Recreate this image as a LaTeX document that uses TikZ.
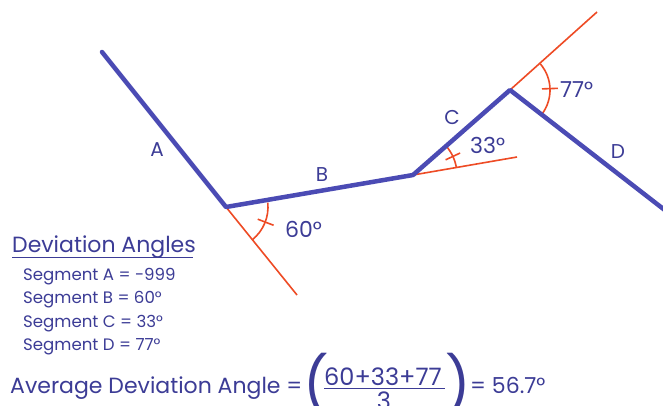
\documentclass[tikz,border=0pt]{standalone}
\usepackage{fontspec}
\setmainfont{Poppins}
\definecolor{segblue}{HTML}{4B4BB4}
\definecolor{txtblue}{HTML}{3C3C96}
\definecolor{devred}{HTML}{EE4B25}
\begin{document}
\begin{tikzpicture}[x=1pt,y=1pt,
  seg/.style={draw=segblue,line width=4.5pt,line join=round,line cap=round},
  ext/.style={draw=devred,line width=1.6pt},
  lbl/.style={text=txtblue,inner sep=0pt,font=\fontsize{20}{20}\selectfont},
  anglbl/.style={text=txtblue,inner sep=0pt,anchor=base west,font=\fontsize{22}{22}\selectfont},
  listtxt/.style={text=txtblue,inner sep=0pt,anchor=base west,font=\fontsize{16.6}{16.6}\selectfont},
  bigtxt/.style={text=txtblue,inner sep=0pt,anchor=base west,font=\fontsize{22}{22}\selectfont},
  paren/.style={text=txtblue,inner sep=0pt,anchor=base west,font=\fontsize{56}{56}\selectfont}]
\useasboundingbox (0,0) rectangle (663,-405);
\fill[white] (0,0) rectangle (663,-405);
% vertices
\coordinate (P0) at (102,-52);
\coordinate (V1) at (226,-207);
\coordinate (V2) at (413,-175);
\coordinate (V3) at (510,-90);
\coordinate (P4) at (666,-211);
% red extensions
\coordinate (E1) at (297,-295);
\coordinate (E2) at (517,-157);
\coordinate (E3) at (597,-12);
\draw[ext] (V1) -- (E1);
\draw[ext] (V2) -- (E2);
\draw[ext] (V3) -- (E3);
% arcs and ticks
\draw[ext] (V1) ++(-51:42) arc[start angle=-51,end angle=6,radius=42];
\draw[ext] (V1) ++(-21:34) -- ++(-21:17);
\draw[ext] (V2) ++(9.7:44) arc[start angle=9.7,end angle=41,radius=44];
\draw[ext] (V2) ++(25:36) -- ++(25:16);
\draw[ext] (V3) ++(-37:40) arc[start angle=-37,end angle=41,radius=40];
\draw[ext] (V3) ++(2:32) -- ++(2:16);
% blue polyline
\draw[seg] (P0) -- (V1) -- (V2) -- (V3) -- (P4);
% segment labels
\node[lbl] (la) at (157,-150) {A};
\node[lbl] (lb) at (322,-175) {B};
\node[lbl] (lc) at (452,-117) {C};
\node[lbl] (ld) at (618,-152) {D};
% angle labels
\node[anglbl] (a60) at (285,-237) {60°};
\node[anglbl] (a33) at (470,-153) {33°};
\node[anglbl] (a77) at (560,-97) {77°};
% list
\node[text=txtblue,inner sep=0pt,anchor=base west,font=\fontsize{22}{22}\selectfont] (hd) at (12,-252) {Deviation Angles};
\draw[txtblue,line width=1.2pt] (12,-257.5) -- (193,-257.5);
\node[listtxt] (sa) at (23,-280) {Segment A = -999};
\node[listtxt] (sb) at (23,-303.5) {Segment B = 60°};
\node[listtxt] (sc) at (23,-327) {Segment C = 33°};
\node[listtxt] (sd) at (23,-350.5) {Segment D = 77°};
% formula
\node[bigtxt] (avg) at (10,-393) {Average Deviation Angle =};
\node[paren] (lp) at (303,-405) {(};
\node[text=txtblue,inner sep=0pt,anchor=base west,font=\fontsize{24}{24}\selectfont] (num) at (324,-385) {60+33+77};
\draw[txtblue,line width=1.3pt] (324,-388.5) -- (445,-388.5);
\node[text=txtblue,inner sep=0pt,anchor=north,font=\fontsize{24}{24}\selectfont] (den) at (384,-392) {3};
\node[paren] (rp) at (445,-405) {)};
\node[bigtxt] (res) at (470,-393) {= 56.7°};
\end{tikzpicture}
\end{document}
